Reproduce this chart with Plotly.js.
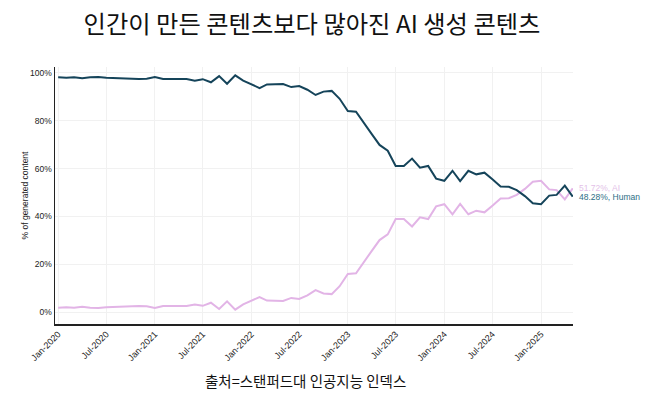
<!DOCTYPE html>
<html>
<head>
<meta charset="utf-8">
<script src="https://cdn.plot.ly/plotly-3.0.1.min.js"></script>
<style>
  html, body { margin: 0; padding: 0; background: #ffffff; }
  #chart { width: 658px; height: 398px; }
</style>
</head>
<body>
<div id="chart"></div>
<script>
// Monthly share of generated content, Jan-2020 .. May-2025
const startYear = 2020;
const startMonth = 1;
const humanShare = [98.2, 98.0, 98.2, 97.8, 98.2, 98.3, 98.0, 97.9, 97.5, 97.4,
  97.5, 97.6, 98.3, 97.5, 97.5, 97.2, 97.5, 96.8, 97.4, 96.1,
  98.7, 95.5, 99.0, 96.8, 95.4, 93.7, 95.2, 95.3, 95.4, 94.1,
  94.5, 93.0, 90.8, 92.2, 92.5, 89.2, 84.1, 83.8, 79.6, 74.5,
  69.9, 67.5, 61.1, 61.1, 64.2, 60.4, 61.1, 55.8, 54.9, 59.1,
  54.8, 59.1, 57.6, 58.3, 55.5, 52.5, 52.4, 51.0, 48.5, 45.5,
  45.1, 48.7, 49.0, 52.9, 48.28];
const aiShare = [1.8, 2.0, 1.8, 2.2, 1.8, 1.7, 2.0, 2.1, 2.5, 2.6,
  2.5, 2.4, 1.7, 2.5, 2.5, 2.8, 2.5, 3.2, 2.6, 3.9,
  1.3, 4.5, 1.0, 3.2, 4.6, 6.3, 4.8, 4.7, 4.6, 5.9,
  5.5, 7.0, 9.2, 7.8, 7.5, 10.8, 15.9, 16.2, 20.4, 25.5,
  30.1, 32.5, 38.9, 38.9, 35.8, 39.6, 38.9, 44.2, 45.1, 40.9,
  45.2, 40.9, 42.4, 41.7, 44.5, 47.5, 47.6, 49.0, 51.5, 54.5,
  54.9, 51.3, 51.0, 47.1, 51.72];
const tickDates = ['2020-01-01','2020-07-01','2021-01-01','2021-07-01','2022-01-01','2022-07-01',
  '2023-01-01','2023-07-01','2024-01-01','2024-07-01','2025-01-01'];
const tickLabels = ['Jan-2020','Jul-2020','Jan-2021','Jul-2021','Jan-2022','Jul-2022',
  'Jan-2023','Jul-2023','Jan-2024','Jul-2024','Jan-2025'];
const yTicks = [0, 20, 40, 60, 80, 100];
const yTickLabels = ['0%', '20%', '40%', '60%', '80%', '100%'];
const aiLabel = '51.72%, AI';
const humanLabel = '48.28%, Human';

const months = humanShare.map((_, i) => {
  const total = (startMonth - 1) + i;
  const y = startYear + Math.floor(total / 12);
  const m = (total % 12) + 1;
  return y + '-' + String(m).padStart(2, '0') + '-01';
});

const humanColor = '#15445a';
const aiColor = '#e2b4e6';

const traces = [
  { x: months, y: aiShare, type: 'scatter', mode: 'lines', name: 'AI',
    line: { color: aiColor, width: 2 }, hoverinfo: 'skip' },
  { x: months, y: humanShare, type: 'scatter', mode: 'lines', name: 'Human',
    line: { color: humanColor, width: 2 }, hoverinfo: 'skip' }
];

const last = months.length - 1;
const layout = {
  width: 658, height: 398,
  margin: { l: 55, r: 85, t: 67, b: 74 },
  paper_bgcolor: '#ffffff', plot_bgcolor: '#ffffff',
  showlegend: false,
  font: { family: 'Liberation Sans, Arial, sans-serif', color: '#222' },
  title: {
    text: '인간이 만든 콘텐츠보다 많아진 AI 생성 콘텐츠',
    font: { family: 'Noto Sans CJK KR, sans-serif', size: 24.3, color: '#111' },
    x: 312 / 658, xanchor: 'center', xref: 'container',
    y: 1 - 24 / 398, yanchor: 'middle', yref: 'container'
  },
  xaxis: {
    type: 'date',
    range: ['2019-12-20', '2025-05-02'],
    tickvals: tickDates, ticktext: tickLabels,
    tickangle: -45,
    tickfont: { size: 9, color: '#222' },
    showgrid: true, gridcolor: '#f1f1f1', gridwidth: 1,
    showline: true, linecolor: '#222', linewidth: 1.5,
    ticks: '', zeroline: false, fixedrange: true
  },
  yaxis: {
    range: [-5, 102.5],
    tickvals: yTicks, ticktext: yTickLabels,
    tickfont: { size: 8.5, color: '#222' },
    showgrid: true, gridcolor: '#f1f1f1', gridwidth: 1,
    showline: true, linecolor: '#222', linewidth: 1.5,
    ticks: '', zeroline: false, fixedrange: true,
    title: { text: '% of generated content', font: { size: 8.5, color: '#222' }, standoff: 0 }
  },
  annotations: [
    { x: months[last], y: aiShare[last], xref: 'x', yref: 'y', text: aiLabel,
      showarrow: false, xanchor: 'left', yanchor: 'middle', xshift: 4,
      font: { size: 8.5, color: '#e3bfe8' } },
    { x: months[last], y: humanShare[last], xref: 'x', yref: 'y', text: humanLabel,
      showarrow: false, xanchor: 'left', yanchor: 'middle', xshift: 4,
      font: { size: 8.5, color: '#2d6e86' } },
    { text: '출처=스탠퍼드대 인공지능 인덱스', xref: 'paper', yref: 'paper',
      x: (305 - 55) / 518, y: -(380 - 324) / 257, xanchor: 'center', yanchor: 'middle',
      showarrow: false, font: { family: 'Noto Sans CJK KR, sans-serif', size: 14.5, color: '#111' } }
  ]
};

Plotly.newPlot('chart', traces, layout, { staticPlot: true, displayModeBar: false });
</script>
</body>
</html>
